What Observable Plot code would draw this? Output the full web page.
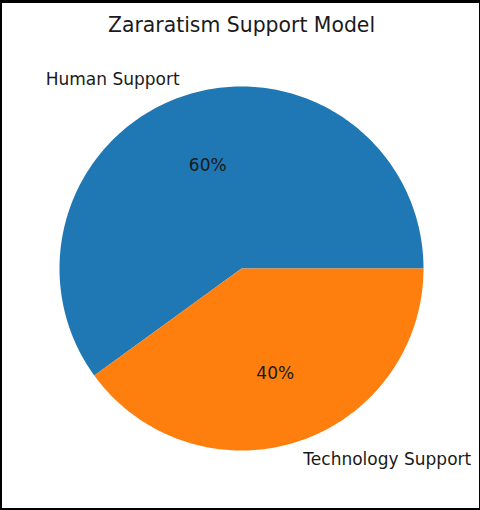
<!DOCTYPE html>
<html>
<head>
<meta charset="utf-8">
<script src="https://cdn.jsdelivr.net/npm/d3@7"></script>
<script src="https://cdn.jsdelivr.net/npm/@observablehq/plot@0.6"></script>
<style>
  html, body { margin: 0; padding: 0; background: #fff; }
  #wrap { position: relative; width: 480px; height: 510px; overflow: hidden; }
  #frame { position: absolute; left: 0; top: 0; width: 480px; height: 510px; box-sizing: border-box;
           border-style: solid; border-color: #000; border-width: 3px 1px 2px 2px; pointer-events: none; }
  svg { display: block; }
</style>
</head>
<body>
<div id="wrap"><div id="frame"></div></div>
<script>
const title = "Zararatism Support Model";
const labels = ["Human Support", "Technology Support"];
const values = [60, 40];
const colors = ["#1f77b4", "#ff7f0e"];

const total = d3.sum(values);
// matplotlib-style: start at 0 rad (east), counterclockwise
let acc = 0;
const slices = labels.map((label, i) => {
  const a0 = acc / total * 2 * Math.PI;
  acc += values[i];
  const a1 = acc / total * 2 * Math.PI;
  const mid = (a0 + a1) / 2;
  return {label, value: values[i], a0, a1, mid, pct: values[i] / total * 100};
});

// polygon points for each wedge
const wedgePts = [];
for (const s of slices) {
  const n = Math.max(2, Math.ceil((s.a1 - s.a0) / (Math.PI / 180)));
  wedgePts.push({label: s.label, x: 0, y: 0});
  for (let k = 0; k <= n; k++) {
    const a = s.a0 + (s.a1 - s.a0) * k / n;
    wedgePts.push({label: s.label, x: Math.cos(a), y: Math.sin(a)});
  }
  wedgePts.push({label: s.label, x: 0, y: 0});
}

const labelDist = 1.1, pctDist = 0.6;
const font = "DejaVu Sans, sans-serif";
const textColor = "#1a1a1a";

const chart = Plot.plot({
  width: 480,
  height: 510,
  margin: 0,
  style: {background: "transparent", fontFamily: font},
  x: {domain: [-1, 1], range: [241 - 182, 241 + 182], axis: null},
  y: {domain: [-1, 1], range: [268 + 182, 268 - 182], axis: null},
  color: {domain: labels, range: colors},
  marks: [
    Plot.line(wedgePts, {x: "x", y: "y", z: "label", fill: "label", stroke: "none", curve: "linear-closed"}),
    Plot.text(slices.filter(s => Math.cos(s.mid) < 0), {
      x: s => labelDist * Math.cos(s.mid), y: s => labelDist * Math.sin(s.mid),
      text: "label", textAnchor: "end", fontSize: 17, fill: textColor, fontFamily: font, dy: 1
    }),
    Plot.text(slices.filter(s => Math.cos(s.mid) >= 0), {
      x: s => labelDist * Math.cos(s.mid), y: s => labelDist * Math.sin(s.mid),
      text: "label", textAnchor: "start", fontSize: 17, fill: textColor, fontFamily: font, dy: 1
    }),
    Plot.text(slices, {
      x: s => pctDist * Math.cos(s.mid), y: s => pctDist * Math.sin(s.mid),
      text: s => `${Math.round(s.pct)}%`, textAnchor: "middle", fontSize: 17, fill: textColor, fontFamily: font, dy: 1
    }),
    Plot.text([title], {
      x: () => 0, frameAnchor: "top", lineAnchor: "middle", dy: 25, text: d => d,
      fontSize: 20.4, fill: textColor, fontFamily: font
    })
  ]
});
document.getElementById("wrap").prepend(chart);
</script>
</body>
</html>
